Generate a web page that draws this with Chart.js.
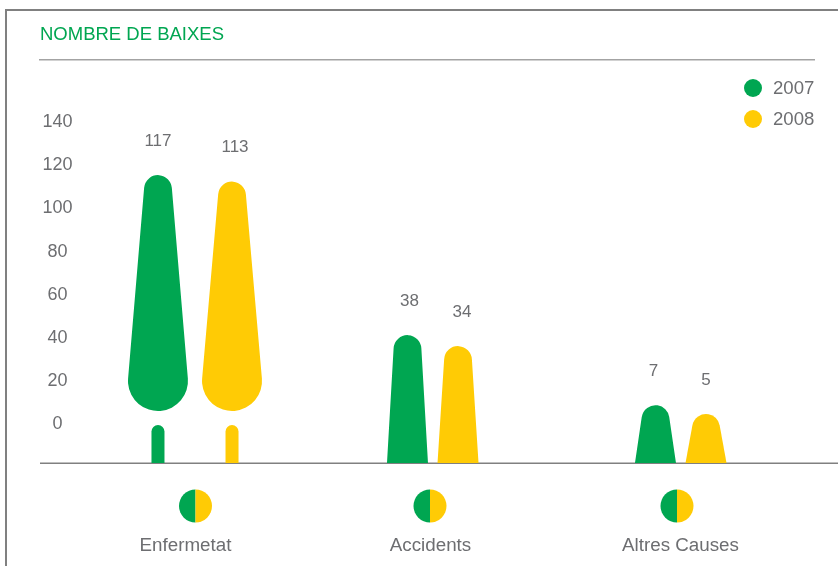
<!DOCTYPE html>
<html>
<head>
<meta charset="utf-8">
<style>
    html, body { margin: 0; padding: 0; background: #fff; }
    #wrap { width: 838px; height: 566px; }
</style>
<script src="https://cdn.jsdelivr.net/npm/chart.js@4/dist/chart.umd.js"></script>
</head>
<body>
<div id="wrap"><canvas id="chart"></canvas></div>
<script>
const categories = ['Enfermetat', 'Accidents', 'Altres Causes'];
const yTicks = [0, 20, 40, 60, 80, 100, 120, 140];
const seriesNames = ['2007', '2008'];

// printed values
const labels2007 = [117, 38, 7];
const labels2008 = [113, 34, 5];
// bar tops as drawn, read against the axis (they don't quite agree with the printed values)
const tops2007 = [115, 40.8, 8.3];
const tops2008 = [112, 35.7, 4.2];

const GREEN = '#00a651';
const YELLOW = '#ffcb05';
const GREY = '#6d6e71';
const FONT = '"Liberation Sans", Arial, sans-serif';
const AXIS_MIN = -18.5;
const BROKEN_ABOVE = 100; // tall bars get the stub + drop shape

// the original layout isn't evenly spaced, so small shifts from the scale's slots
const barShift = [[-12.25, 11.25], [-5.75, -5.75], [-0.75, -0.75]];
const valueShift = [[0, 3], [2, 4], [-2, 0]];
const iconShift = [0, -8.5, -4.5];
const tickShift = [-10, -8, -1];

function hull(ctx, cx, y1, r1, y2, r2) {
    const t = Math.asin((r2 - r1) / (y2 - y1));
    ctx.beginPath();
    ctx.arc(cx, y1, r1, Math.PI + t, 2 * Math.PI - t);
    ctx.arc(cx, y2, r2, -t, Math.PI + t);
    ctx.closePath();
    ctx.fill();
}

function roundTop(ctx, cx, top, r, base, halfBase) {
    const t = Math.atan((halfBase - r) / (base - top - r));
    ctx.beginPath();
    ctx.arc(cx, top + r, r, Math.PI + t, 2 * Math.PI - t);
    ctx.lineTo(cx + halfBase, base);
    ctx.lineTo(cx - halfBase, base);
    ctx.closePath();
    ctx.fill();
}

// swap the rectangle for the rounded shapes, position still comes from the element
class ShapedBar extends Chart.BarElement {
    draw(ctx) {
        const { x, y, base, width } = this.getProps(['x', 'y', 'base', 'width']);
        const cx = x + (this.$shift || 0);
        const r = width / 2;
        ctx.save();
        ctx.fillStyle = this.options.backgroundColor;
        if (this.$raw > BROKEN_ABOVE) {
            hull(ctx, cx, y + r, r, base - 52 - 30, 30);
            roundTop(ctx, cx, base - 38, 6.5, base, 6.5);
        } else {
            roundTop(ctx, cx, y, r, base, 20.5);
        }
        ctx.restore();
    }
}
ShapedBar.id = 'shapedBar';
ShapedBar.defaults = Chart.BarElement.defaults;

class ShapedBarController extends Chart.BarController {
    updateElements(bars, start, count, mode) {
        super.updateElements(bars, start, count, mode);
        const ds = this.index;
        for (let i = start; i < start + count; i++) {
            bars[i].$shift = barShift[i][ds];
            bars[i].$raw = this.getDataset().data[i];
        }
    }
}
ShapedBarController.id = 'shapedBar';
ShapedBarController.defaults = Object.assign({}, Chart.BarController.defaults, { dataElementType: 'shapedBar' });
ShapedBarController.overrides = Chart.BarController.overrides;
Chart.register(ShapedBar, ShapedBarController);

const decorations = {
    id: 'decorations',
    beforeDraw(chart) {
        const { ctx } = chart;
        const base = chart.chartArea.bottom;

        ctx.save();
        ctx.fillStyle = '#808080';
        ctx.fillRect(5, 9, 833, 2);    // frame top
        ctx.fillRect(5, 9, 2, 557);    // frame left
        ctx.fillRect(40, base - 0.5, 798, 1.5); // baseline
        ctx.fillStyle = '#a3a3a3';
        ctx.fillRect(39, 59, 776, 1.5);
        ctx.restore();

        chart.scales.x.getLabelItems(chart.chartArea).forEach((item, i) => {
            if (item.shifted) return;
            item.options.translation[0] += tickShift[i];
            item.shifted = true;
        });
        chart.scales.y.getLabelItems(chart.chartArea).forEach((item) => {
            if (item.shifted) return;
            item.options.translation[1] += 1;
            item.shifted = true;
        });
    },
    afterDatasetsDraw(chart) {
        const { ctx, data, scales } = chart;
        ctx.save();

        // value labels
        ctx.font = '17px ' + FONT;
        ctx.fillStyle = GREY;
        ctx.textAlign = 'center';
        ctx.textBaseline = 'middle';
        [labels2007, labels2008].forEach((labels, ds) => {
            chart.getDatasetMeta(ds).data.forEach((bar, i) => {
                ctx.fillText(String(labels[i]), bar.x + barShift[i][ds] + valueShift[i][ds], bar.y - 34);
            });
        });

        // half and half icons above the category names
        categories.forEach((c, i) => {
            const x = scales.x.getPixelForTick(i) + iconShift[i];
            const y = chart.chartArea.bottom + 43;
            ctx.fillStyle = data.datasets[0].backgroundColor;
            ctx.beginPath();
            ctx.arc(x, y, 16.5, Math.PI / 2, Math.PI * 1.5);
            ctx.fill();
            ctx.fillStyle = data.datasets[1].backgroundColor;
            ctx.beginPath();
            ctx.arc(x, y, 16.5, -Math.PI / 2, Math.PI / 2);
            ctx.fill();
        });

        // legend
        ctx.textAlign = 'left';
        ctx.font = '18.6px ' + FONT;
        data.datasets.forEach((dataset, i) => {
            const y = 88 + i * 31;
            ctx.fillStyle = dataset.backgroundColor;
            ctx.beginPath();
            ctx.arc(753, y, 9, 0, Math.PI * 2);
            ctx.fill();
            ctx.fillStyle = GREY;
            ctx.fillText(dataset.label, 773, y + 1);
        });
        ctx.restore();
    }
};

new Chart(document.getElementById('chart'), {
    type: 'shapedBar',
    data: {
        labels: categories,
        datasets: [
            { label: seriesNames[0], data: tops2007, backgroundColor: GREEN, base: AXIS_MIN },
            { label: seriesNames[1], data: tops2008, backgroundColor: YELLOW, base: AXIS_MIN }
        ]
    },
    options: {
        responsive: true,
        maintainAspectRatio: false,
        animation: false,
        categoryPercentage: 0.416,
        barPercentage: 0.55,
        layout: { padding: { left: 40, right: 35 } },
        plugins: {
            legend: { display: false },
            tooltip: { enabled: false },
            title: {
                display: true,
                text: 'NOMBRE DE BAIXES',
                align: 'start',
                color: GREEN,
                font: { family: FONT, size: 18.5, weight: 'normal' },
                padding: { top: 24, bottom: 75 }
            }
        },
        scales: {
            x: {
                grid: { display: false },
                border: { display: false },
                ticks: {
                    color: GREY,
                    font: { family: FONT, size: 18.8 },
                    padding: 64,
                    maxRotation: 0,
                    autoSkip: false
                },
                afterFit(scale) { scale.height = 103; }
            },
            y: {
                min: AXIS_MIN,
                max: 140,
                grid: { display: false },
                border: { display: false },
                afterBuildTicks(scale) { scale.ticks = yTicks.map((value) => ({ value })); },
                ticks: {
                    color: GREY,
                    font: { family: FONT, size: 18 },
                    crossAlign: 'center',
                    padding: -6.5
                },
                afterFit(scale) { scale.width = 34; }
            }
        }
    },
    plugins: [decorations]
});
</script>
</body>
</html>
